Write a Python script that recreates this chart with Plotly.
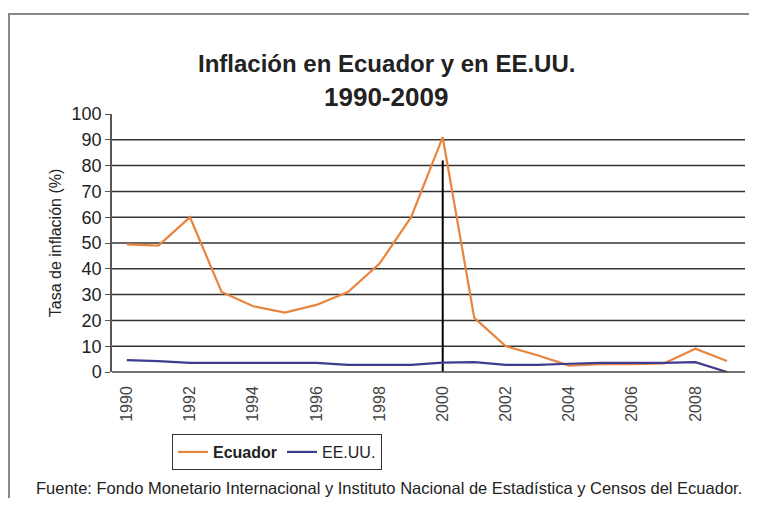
import plotly.graph_objects as go

years = list(range(1990, 2010))
ecuador = [49.5, 49, 60, 31, 25.5, 23, 26, 31, 42, 60, 91, 21, 10, 6.5, 2.5, 3, 3, 3.3, 9, 4.3]
eeuu = [4.6, 4.2, 3.5, 3.5, 3.5, 3.5, 3.5, 2.8, 2.8, 2.8, 3.6, 3.8, 2.8, 2.8, 3.2, 3.5, 3.5, 3.5, 3.8, 0]
tick_years = list(range(1990, 2010, 2))
grid_levels = list(range(10, 100, 10))
dollarization_year = 2000
dollarization_top = 82

# page has an 8px body margin, so the figure is drawn 8px in from the window
W, H = 741, 490
L, R, T, B = 104, 4, 106, 126
FONT = "Liberation Sans, Arial, sans-serif"
ORANGE = "#E9843F"
BLUE = "#3D3C8E"


def px(x):
    return (x - L) / (W - L - R)


def py(y):
    return (H - B - y) / (H - T - B)


fig = go.Figure()
fig.add_trace(go.Scatter(
    x=[dollarization_year, dollarization_year], y=[0, dollarization_top],
    mode="lines", line=dict(color="black", width=2), showlegend=False,
    hoverinfo="skip",
))
fig.add_trace(go.Scatter(
    x=years, y=ecuador, name="<b>Ecuador</b>", mode="lines",
    line=dict(color=ORANGE, width=2.2),
))
fig.add_trace(go.Scatter(
    x=years, y=eeuu, name="EE.UU.", mode="lines",
    line=dict(color=BLUE, width=2.2),
))

shapes = [
    dict(type="line", xref="paper", yref="y", x0=0, x1=1, y0=g, y1=g,
         line=dict(color="#333", width=1.5), layer="below")
    for g in grid_levels
]
shapes += [
    dict(type="line", xref="paper", yref="paper", x0=0, x1=1, y0=0, y1=0,
         line=dict(color="#444", width=1.5)),
    dict(type="rect", xref="paper", yref="paper", x0=px(1), x1=px(760),
         y0=py(6), y1=py(520), line=dict(color="#888", width=2)),
]

fig.update_layout(
    width=W, height=H,
    margin=dict(l=L, r=R, t=T, b=B),
    paper_bgcolor="white", plot_bgcolor="white",
    font=dict(family=FONT, color="#222", size=14),
    showlegend=True,
    legend=dict(
        orientation="h", x=px(269), y=py(444), xanchor="center", yanchor="middle",
        bordercolor="#333", borderwidth=1, font=dict(size=16, color="#222"),
        itemwidth=30,
    ),
    xaxis=dict(
        range=[1989.53, 2009.57], tickvals=tick_years, ticktext=[str(y) for y in tick_years],
        tickangle=-90, showgrid=False, zeroline=False, showline=False,
        ticks="", tickfont=dict(size=16, color="#444"), ticklabelstandoff=10,
    ),
    yaxis=dict(
        range=[0, 100], dtick=10, showgrid=False,
        zeroline=False, showline=True, linecolor="#555", linewidth=1.5,
        ticks="outside", ticklen=5, tickcolor="#555",
        tickfont=dict(size=18, color="#222"),
        title=dict(text="Tasa de inflación (%)", font=dict(size=16, color="#222"), standoff=6),
    ),
    shapes=shapes,
    annotations=[
        dict(text="<b>Inflación en Ecuador y en EE.UU.</b>", xref="paper", yref="paper",
             x=px(378), y=py(55), showarrow=False, font=dict(size=24, color="#222"),
             xanchor="center", yanchor="middle"),
        dict(text="<b>1990-2009</b>", xref="paper", yref="paper",
             x=px(378), y=py(89), showarrow=False, font=dict(size=26, color="#222"),
             xanchor="center", yanchor="middle"),
        dict(text="Fuente: Fondo Monetario Internacional y Instituto Nacional de Estadística y Censos del Ecuador.",
             xref="paper", yref="paper", x=px(381), y=py(480), showarrow=False,
             font=dict(size=16.5, color="#222"), xanchor="center", yanchor="middle"),
    ],
)

fig.write_html("out.html")
